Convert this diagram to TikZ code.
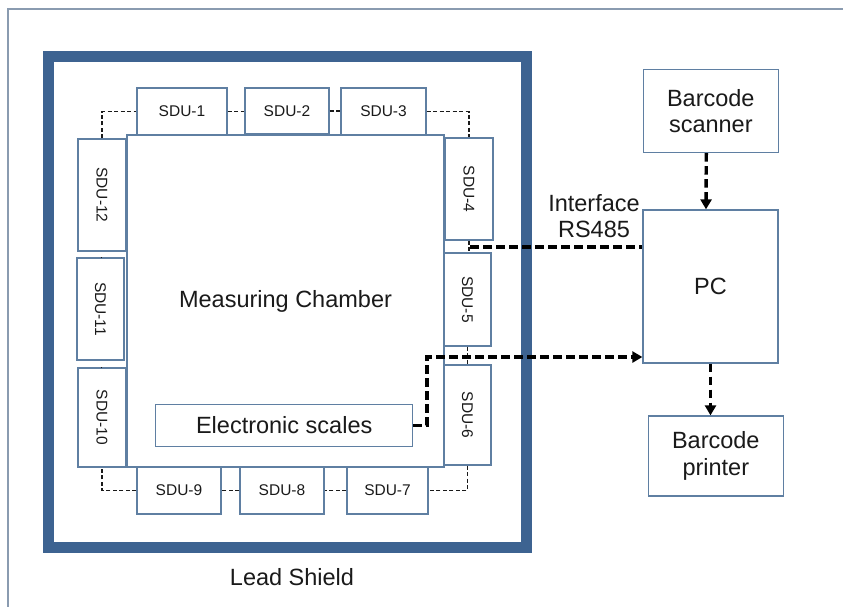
\documentclass[tikz,border=0pt]{standalone}
\usepackage{fontspec}
\setmainfont{Liberation Sans}
\usepackage{graphicx}
\usepackage{tikz}
\usetikzlibrary{arrows.meta}
\definecolor{ink}{HTML}{1A1A1A}
\definecolor{shield}{HTML}{3D6391}
\definecolor{edge}{HTML}{5F7FA2}
\definecolor{frame}{HTML}{8A9BB0}
\tikzset{
  sdubox/.style={draw=edge,line width=1.3pt,fill=white,inner sep=0pt,text=ink,
    font=\fontsize{15.5}{18}\selectfont},
  unitbox/.style={draw=edge,line width=1.3pt,fill=white,inner sep=0pt,align=center,
    text=ink,font=\fontsize{23.5}{26.7}\selectfont},
  chainline/.style={draw=ink,line width=1.4pt,dash pattern=on 4pt off 2.5pt},
  busline/.style={draw=black,line width=3.4pt,dash pattern=on 8.5pt off 4.5pt},
  busarrow/.style={busline,-{Triangle[length=10pt,width=11pt]}}
}

\begin{document}
\begin{tikzpicture}[x=1pt,y=-1pt]
\useasboundingbox (0,0) rectangle (843,606);
\draw[frame,line width=1.4pt] (8,9) rectangle (870,640);
% lead shield
\node[draw=shield,line width=11.5pt,minimum width=478pt,minimum height=491pt] (shieldbox) at (287.5,302) {};
\node[text=ink,font=\fontsize{23.5}{26.7}\selectfont] (shieldlabel) at (292,577) {Lead Shield};
% chamber and detectors
\node[unitbox,minimum width=317pt,minimum height=332pt] (chamber) at (285.5,301) {Measuring Chamber};
\node[unitbox,minimum width=257pt,minimum height=42pt] (scales) at (284.2,425.2) {Electronic scales};
\node[sdubox,minimum width=90pt,minimum height=47pt] (sdu1) at (182,111.5) {SDU-1};
\node[sdubox,minimum width=84pt,minimum height=46pt] (sdu2) at (287,111) {SDU-2};
\node[sdubox,minimum width=85pt,minimum height=47pt] (sdu3) at (383.5,111.5) {SDU-3};
\node[sdubox,minimum width=48pt,minimum height=102pt] (sdu4) at (469,189) {\rotatebox{-90}{SDU-4}};
\node[sdubox,minimum width=47pt,minimum height=93pt] (sdu5) at (467.5,299.5) {\rotatebox{-90}{SDU-5}};
\node[sdubox,minimum width=47pt,minimum height=100pt] (sdu6) at (467.5,415) {\rotatebox{-90}{SDU-6}};
\node[sdubox,minimum width=81pt,minimum height=47pt] (sdu7) at (387.5,490.5) {SDU-7};
\node[sdubox,minimum width=84pt,minimum height=47pt] (sdu8) at (282,490.5) {SDU-8};
\node[sdubox,minimum width=84pt,minimum height=47pt] (sdu9) at (179,490.5) {SDU-9};
\node[sdubox,minimum width=48pt,minimum height=99pt] (sdu10) at (102,417.5) {\rotatebox{-90}{SDU-10}};
\node[sdubox,minimum width=47pt,minimum height=102pt] (sdu11) at (100.5,309) {\rotatebox{-90}{SDU-11}};
\node[sdubox,minimum width=48pt,minimum height=112pt] (sdu12) at (102,195) {\rotatebox{-90}{SDU-12}};
% detector chain
\draw[chainline] (sdu12.north) |- (sdu1.west);
\draw[chainline] (sdu1.east) -- (sdu1.east -| sdu2.west);
\draw[chainline] (sdu2.east) -- (sdu2.east -| sdu3.west);
\draw[chainline] (sdu3.east) -| (sdu4.north);
\draw[chainline] (sdu4.south) -- (sdu4.south |- sdu5.north);
\draw[chainline] (sdu5.south) -- (sdu5.south |- sdu6.north);
\draw[chainline] (sdu6.south) |- (sdu7.east);
\draw[chainline] (sdu7.west) -- (sdu7.west -| sdu8.east);
\draw[chainline] (sdu8.west) -- (sdu8.west -| sdu9.east);
\draw[chainline] (sdu9.west) -| (sdu10.south);
\draw[chainline] (sdu10.north) -- (sdu10.north -| sdu11.south);
\draw[chainline] (sdu11.north) -- (sdu11.north -| sdu12.south);
% periphery
\node[unitbox,minimum width=135pt,minimum height=153pt] (pc) at (710.5,286.5) {PC};
\node[unitbox,minimum width=135pt,minimum height=83pt] (scanner) at (710.8,111) {Barcode\\scanner};
\node[unitbox,minimum width=135pt,minimum height=80pt] (printer) at (715.8,456) {Barcode\\printer};
\node[text=ink,align=center,font=\fontsize{23.5}{26.7}\selectfont] (iflabel) at (594,216) {Interface\\RS485};
\coordinate (rs) at (470,247);
\coordinate (bend) at (427,357);
\draw[busline] (rs) -- (rs -| pc.west);
\draw[busarrow] (scales.east) -| (bend) -- (bend -| pc.west);
\draw[busarrow] ([xshift=-4.5pt]scanner.south) -- ([xshift=-4.5pt]pc.north);
\draw[busarrow] (pc.south) -- (pc.south |- printer.north);
\end{tikzpicture}
\end{document}
